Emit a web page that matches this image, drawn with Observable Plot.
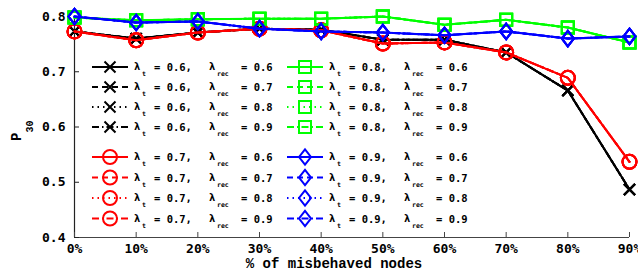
<!DOCTYPE html>
<html><head><meta charset="utf-8">
<script src="https://cdn.jsdelivr.net/npm/d3@7"></script>
<script src="https://cdn.jsdelivr.net/npm/@observablehq/plot@0.6"></script>
<style>
body{margin:0;background:#fff}
#chart{position:relative;width:638px;height:276px}
</style>
</head><body><div id="chart"></div>
<script>
// ---- data ----
const xPct = [0,10,20,30,40,50,60,70,80,90];
const xTickLabels = ["0%","10%","20%","30%","40%","50%","60%","70%","80%","90%"];
const yTicks = [0.4,0.5,0.6,0.7,0.8];
const yTickLabels = ["0.4","0.5","0.6","0.7","0.8"];
const lambdaT = ["0.6","0.7","0.8","0.9"];
const lambdaRec = ["0.6","0.7","0.8","0.9"];
const p30_t06 = [0.773,0.760,0.771,0.778,0.776,0.758,0.758,0.735,0.666,0.487];
const p30_t07 = [0.773,0.757,0.771,0.778,0.775,0.751,0.753,0.735,0.689,0.537];
const p30_t08 = [0.798,0.793,0.795,0.796,0.796,0.800,0.785,0.794,0.780,0.753];
const p30_t09 = [0.800,0.789,0.791,0.778,0.773,0.771,0.766,0.773,0.760,0.764];
const xLabel = "% of misbehaved nodes";
const yLabel = "P";
const yLabelSub = "30";

// ---- styles ----
const groupValues = [p30_t06, p30_t07, p30_t08, p30_t09];
const colors = ["#000000","#ff0000","#00ff00","#0000ff"];
const dashes = [null, "6,4", "1.5,4", "7,3,1.5,3"];

const symX = {draw(ctx,size){const r=Math.sqrt(size/Math.PI);ctx.moveTo(-r,-r);ctx.lineTo(r,r);ctx.moveTo(-r,r);ctx.lineTo(r,-r);}};
const symO = {draw(ctx,size){const r=Math.sqrt(size/Math.PI);ctx.moveTo(r,0);ctx.arc(0,0,r,0,2*Math.PI);}};
const symSq = {draw(ctx,size){const r=Math.sqrt(size/Math.PI);ctx.rect(-r,-r,2*r,2*r);}};
const symDi = {draw(ctx,size){const r=Math.sqrt(size/Math.PI);ctx.moveTo(0,-r*1.18);ctx.lineTo(r*0.92,0);ctx.lineTo(0,r*1.18);ctx.lineTo(-r*0.92,0);ctx.closePath();}};
const symbols = [symX, symO, symSq, symDi];
const radii = [5.5, 7, 6, 6.5];

const marks = [];
groupValues.forEach((vals, g) => {
  lambdaRec.forEach((rec, k) => {
    const rows = xPct.map((x, i) => ({x, y: vals[i]}));
    marks.push(Plot.line(rows, {x: "x", y: "y", stroke: colors[g], strokeWidth: 2, strokeDasharray: dashes[k] || undefined}));
    marks.push(Plot.dot(rows, {x: "x", y: "y", stroke: colors[g], fill: "none", strokeWidth: 2, symbol: symbols[g], r: radii[g]}));
  });
});

const plot = Plot.plot({
  width: 638, height: 276,
  marginLeft: 74, marginRight: 9, marginTop: 16, marginBottom: 39,
  x: {domain: [0, 90]},
  y: {domain: [0.4, 0.8]},
  style: {fontFamily: "'DejaVu Sans Mono', monospace", fontSize: "13px", fontWeight: "bold", color: "#000", background: "#fff"},
  marks: [
    Plot.ruleX([0], {stroke: "#222", strokeWidth: 1.2}),
    Plot.ruleY([0.4], {stroke: "#444", strokeWidth: 1.2}),
    Plot.axisX(xPct, {tickSize: -5, tickPadding: 11, tickFormat: (d, i) => xTickLabels[i], label: null, stroke: "#444"}),
    Plot.axisY(yTicks, {tickSize: -5, tickPadding: 14, tickFormat: (d, i) => yTickLabels[i], label: null, stroke: "#222"}),
    ...marks
  ]
});
document.getElementById("chart").appendChild(plot);

// ---- labels & legend ----
const svg = d3.select(plot);
const yl = svg.append("text")
  .attr("transform", "translate(21,141) rotate(-90)")
  .attr("text-anchor", "start")
  .attr("font-family", "'Liberation Mono', monospace").attr("font-weight", "bold").attr("font-size", 14)
  .attr("fill", "#000");
yl.append("tspan").text(yLabel);
yl.append("tspan").attr("dy", 12).attr("font-size", 10).text(yLabelSub);

svg.append("text").attr("x", 334).attr("y", 268).attr("text-anchor", "middle")
  .attr("font-family", "'Liberation Mono', monospace").attr("font-weight", "bold").attr("font-size", 14)
  .attr("fill", "#000").text(xLabel);

const leg = svg.append("g").attr("text-anchor", "start")
  .attr("font-family", "'DejaVu Sans Mono', monospace").attr("font-weight", "bold").attr("font-size", 10.5).attr("fill", "#000");
const blockX = [92, 92, 287, 287];
const blockY = [67, 157, 67, 157];
const rowStep = [20, 20.5, 20, 20.5];
groupValues.forEach((_, g) => {
  lambdaRec.forEach((rec, k) => {
    const x0 = blockX[g], y0 = blockY[g] + k * rowStep[g];
    const line = leg.append("line").attr("x1", x0).attr("x2", x0 + 36).attr("y1", y0).attr("y2", y0)
      .attr("stroke", colors[g]).attr("stroke-width", 2);
    if (dashes[k]) line.attr("stroke-dasharray", dashes[k]);
    const r = radii[g];
    leg.append("path").attr("transform", `translate(${x0 + 18},${y0})`)
      .attr("d", d3.symbol(symbols[g], Math.PI * r * r)())
      .attr("fill", "none").attr("stroke", colors[g]).attr("stroke-width", 2);
    const tx = x0 + 42;
    leg.append("text").attr("x", tx).attr("y", y0 + 3).text("λ");
    leg.append("text").attr("x", tx + 8).attr("y", y0 + 9).attr("font-size", 6.5).text("t");
    leg.append("text").attr("x", tx + 20).attr("y", y0 + 4).text("= " + lambdaT[g] + ",");
    leg.append("text").attr("x", tx + 75).attr("y", y0 + 3).text("λ");
    leg.append("text").attr("x", tx + 83).attr("y", y0 + 9).attr("font-size", 6.5).text("rec");
    leg.append("text").attr("x", tx + 107).attr("y", y0 + 4).text("= " + rec);
  });
});
</script>
</body></html>
